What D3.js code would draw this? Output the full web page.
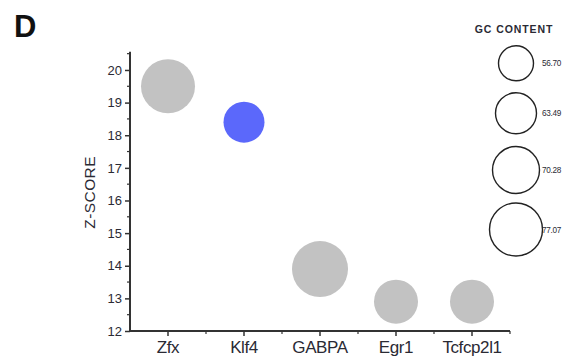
<!DOCTYPE html>
<html>
<head>
<meta charset="utf-8">
<script src="https://cdn.jsdelivr.net/npm/d3@7"></script>
<style>
  html, body { margin: 0; padding: 0; background: #fff; }
  svg { display: block; font-family: "Liberation Sans", Arial, sans-serif; }
</style>
</head>
<body>
<svg id="chart" width="580" height="362"></svg>
<script>
// Transcription factors on the x axis
const factors = ["Zfx", "Klf4", "GABPA", "Egr1", "Tcfcp2l1"];
// Z-score of each factor
const zScores = [19.5, 18.4, 13.9, 12.9, 12.9];
// GC content (%) of each factor, encoded as bubble size
const gcContent = [76.6, 61.9, 78.9, 65.3, 65.3];
// Highlighted factor gets the blue fill
const highlighted = ["Klf4"];
// Y axis tick values
const yTicks = [12, 13, 14, 15, 16, 17, 18, 19, 20];
// Bubble-size legend entries
const legendValues = [56.70, 63.49, 70.28, 77.07];
const legendLabels = ["56.70", "63.49", "70.28", "77.07"];

const svg = d3.select("#chart");
const textColor = "#2a2a34";
const axisColor = "#333";

const plot = { left: 130, right: 510, top: 51.7, bottom: 331 };

const x = d3.scaleBand().domain(factors).range([plot.left, plot.right]).padding(0);
const y = d3.scaleLinear().domain([12, 20.56]).range([plot.bottom, plot.top]);
const r = d3.scaleLinear().domain([56.70, 77.07]).range([18.2, 27.2]);

// Panel letter
svg.append("text")
  .attr("x", 14).attr("y", 37)
  .attr("font-size", 31).attr("font-weight", "bold")
  .attr("fill", "#111")
  .text("D");

// Y axis
const yAxis = d3.axisLeft(y).tickValues(yTicks).tickSize(5).tickPadding(3).tickFormat(d3.format("d"));
const gy = svg.append("g").attr("transform", `translate(${plot.left},0)`).call(yAxis);
gy.select(".domain").attr("stroke", axisColor).attr("stroke-width", 2).attr("d", `M0,${plot.top}V${plot.bottom}`);
gy.selectAll(".tick line").attr("stroke", axisColor).attr("stroke-width", 1.5);
gy.selectAll(".tick text").attr("fill", textColor).attr("font-size", 13)
  .attr("font-family", "Liberation Sans, Arial, sans-serif");
// Minor ticks at half units
const yMinor = d3.range(12.5, 20.6, 1);
gy.selectAll(".minor").data(yMinor).enter().append("line")
  .attr("class", "minor")
  .attr("x1", 0).attr("x2", -3)
  .attr("y1", d => y(d)).attr("y2", d => y(d))
  .attr("stroke", axisColor).attr("stroke-width", 1.2);

// Y axis title
svg.append("text")
  .attr("transform", `translate(94.5,${(plot.top + plot.bottom) / 2 + 1}) rotate(-90)`)
  .attr("text-anchor", "middle")
  .attr("font-size", 15.5).attr("fill", textColor)
  .attr("letter-spacing", 0.4)
  .text("Z-SCORE");

// X axis
const xAxis = d3.axisBottom(x).tickSize(5).tickPadding(5);
const gx = svg.append("g").attr("transform", `translate(0,${plot.bottom})`).call(xAxis);
gx.select(".domain").attr("stroke", axisColor).attr("stroke-width", 2).attr("d", `M${plot.left - 1},0H${plot.right}`);
gx.selectAll(".tick line").attr("stroke", axisColor).attr("stroke-width", 1.5);
gx.selectAll(".tick text").attr("fill", textColor).attr("font-size", 17)
  .attr("letter-spacing", -0.4)
  .attr("font-family", "Liberation Sans, Arial, sans-serif");
// Minor ticks on band boundaries
const xMinor = factors.slice(1).map(f => x(f)).concat([plot.right]);
gx.selectAll(".minor").data(xMinor).enter().append("line")
  .attr("class", "minor")
  .attr("x1", d => d).attr("x2", d => d)
  .attr("y1", 0).attr("y2", 3)
  .attr("stroke", axisColor).attr("stroke-width", 1.2);

// Bubbles
const data = factors.map((f, i) => ({ name: f, z: zScores[i], gc: gcContent[i] }));
svg.append("g").selectAll("circle").data(data).enter().append("circle")
  .attr("cx", d => x(d.name) + x.bandwidth() / 2)
  .attr("cy", d => y(d.z))
  .attr("r", d => r(d.gc))
  .attr("fill", d => highlighted.includes(d.name) ? "#5b68fb" : "#c2c2c2");

// Size legend
const legend = svg.append("g");
legend.append("text")
  .attr("x", 514).attr("y", 33)
  .attr("text-anchor", "middle")
  .attr("font-size", 10.5).attr("font-weight", "bold")
  .attr("letter-spacing", 0.9)
  .attr("fill", textColor)
  .text("GC CONTENT");
const legendY = [63.3, 113.3, 170, 229.5];
legendValues.forEach((v, i) => {
  legend.append("circle")
    .attr("cx", 516).attr("cy", legendY[i])
    .attr("r", r(v) - 0.7)
    .attr("fill", "none").attr("stroke", "#222").attr("stroke-width", 1.4);
  legend.append("text")
    .attr("x", 542).attr("y", legendY[i] + 3)
    .attr("font-size", 8.2).attr("fill", textColor)
    .attr("letter-spacing", -0.3)
    .text(legendLabels[i]);
});
</script>
</body>
</html>
